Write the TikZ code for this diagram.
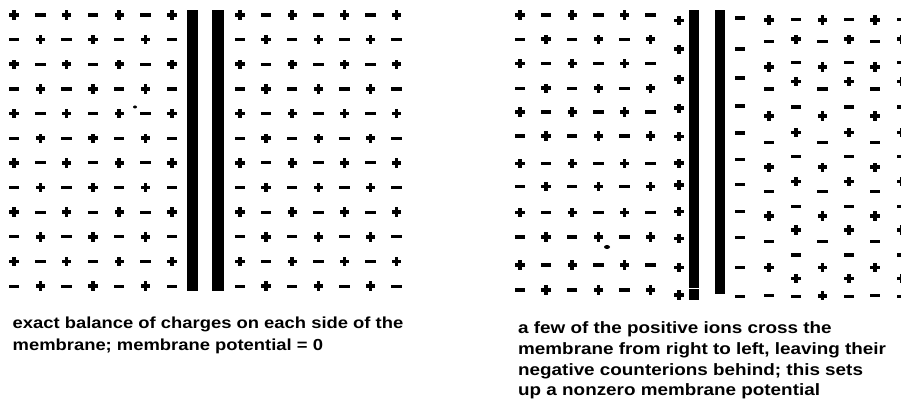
\documentclass[tikz,border=0pt]{standalone}
\usepackage{fontspec}
\setmainfont{Liberation Sans}[FakeStretch=1.15]
\begin{document}
\begin{tikzpicture}[x=1pt,y=-1pt,
  plus/.pic={\fill (-4.7,-1.8) rectangle (4.7,1.8); \fill (-1.8,-4.7) rectangle (1.8,4.7);},
  minus/.pic={\fill (-5.2,-1.6) rectangle (5.2,1.6);},
  membrane/.style={fill=black},
  caption/.style={anchor=base west, inner sep=0pt, font=\fontsize{16}{20}\selectfont\bfseries}]
\useasboundingbox (0,0) rectangle (901,403);
% ---------- left panel ----------
\foreach \j in {0,...,11}{
  \foreach \i in {0,...,6}{
    \pgfmathsetmacro\yy{15+24.65*\j}
    \pgfmathsetmacro\xa{14+26.3*\i}
    \pgfmathsetmacro\xb{240+26.1*\i}
    \pgfmathtruncatemacro\s{mod(\i+\j,2)}
    \ifnum\s=0
      \pic at (\xa,\yy) {plus}; \pic at (\xb,\yy) {plus};
    \else
      \pic at (\xa,\yy) {minus}; \pic at (\xb,\yy) {minus};
    \fi
  }
}
\fill[membrane] (187,10) rectangle (198,291);
\fill[membrane] (212,10) rectangle (224,291);
\fill (135,107) ellipse (2 and 1.5);
% ---------- right panel ----------
\foreach \yy [count=\j from 0] in {15,39.3,63.5,88.3,112,136,163.5,186.5,212.5,237,265,290}{
  \foreach \i in {0,...,5}{
    \pgfmathsetmacro\xx{520+26.1*\i}
    \pgfmathtruncatemacro\s{mod(\i+\j,2)}
    \ifnum\s=0 \pic at (\xx,\yy) {plus}; \else \pic at (\xx,\yy) {minus}; \fi
  }
}
\foreach \yy in {20.7,49.3,79.3,108.3,136.7,163.3,185,211.7,238.3,267.3,295}
  \pic at (679,\yy) {plus};
\foreach \yy in {18,49,78,106,133,159.3,184.3,211.7,237.3,267.3,296.7}
  \pic at (740,\yy) {minus};
% displaced columns (type A)
\foreach \xx in {769,822.5,875}{
  \foreach \yy [count=\j from 0] in {20,41.7,67,89,116,142.7,167.3,191.7,216,241.7,267.3}{
    \pgfmathtruncatemacro\s{mod(\j,2)}
    \ifnum\s=0 \pic at (\xx,\yy) {plus}; \else \pic at (\xx,\yy) {minus}; \fi
  }
}
\pic at (769,295.7) {minus};
\pic at (822.5,295.7) {plus};
\pic at (875,295.7) {minus};
% displaced columns (type B)
\foreach \xx in {796,849,902}{
  \foreach \yy [count=\j from 0] in {19.3,39.3,62.7,81.7,107,132.7,156.7,181.7,206.7,230,255,278.3,296.7}{
    \pgfmathtruncatemacro\s{mod(\j,2)}
    \ifnum\s=0 \pic at (\xx,\yy) {minus}; \else \pic at (\xx,\yy) {plus}; \fi
  }
}
\fill[membrane] (689,10) rectangle (699,288);
\fill[membrane] (688.5,289) rectangle (698.5,300);
\fill[membrane] (715,10) rectangle (725,294);
\fill (607,247) ellipse (3 and 2);
% ---------- captions ----------
\node[caption] (capL1) at (12.5,328.5) {exact balance of charges on each side of the};
\node[caption] (capL2) at (12.5,350.5) {membrane; membrane potential = 0};
\node[caption, font=\fontsize{16.4}{20}\selectfont\bfseries] (capR1) at (518,333.5) {a few of the positive ions cross the};
\node[caption, font=\fontsize{16.4}{20}\selectfont\bfseries] (capR2) at (518,354.5) {membrane from right to left, leaving their};
\node[caption, font=\fontsize{16.4}{20}\selectfont\bfseries] (capR3) at (518,375) {negative counterions behind; this sets};
\node[caption, font=\fontsize{16.4}{20}\selectfont\bfseries] (capR4) at (518,395.5) {up a nonzero membrane potential};
\end{tikzpicture}
\end{document}
